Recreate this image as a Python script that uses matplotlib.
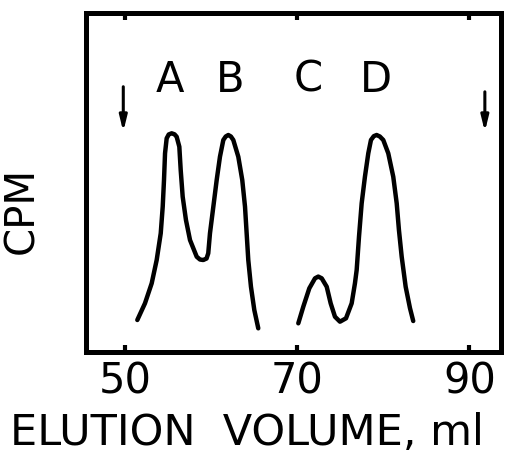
import matplotlib
matplotlib.use('Agg')
import matplotlib.pyplot as plt

# elution profile (x in ml, y in relative CPM 0-100)
ab_x = [51.43, 52.32, 53.10, 53.68, 54.15, 54.38, 54.53, 54.65, 54.84, 55.08, 55.42, 55.75,
        56.00, 56.31, 56.47, 56.70, 57.08, 57.55, 58.33, 58.71, 59.09, 59.47, 59.67, 59.87,
        60.26, 60.65, 61.03, 61.42, 61.70, 62.00, 62.30, 62.58, 63.16, 63.62, 63.94, 64.13,
        64.32, 64.63, 65.02, 65.48]
ab_y = [9.37, 14.30, 20.21, 27.10, 34.99, 42.85, 50.74, 58.63, 63.06, 64.20, 64.54, 64.25,
        63.53, 60.58, 53.69, 45.80, 38.92, 33.01, 28.07, 27.24, 27.10, 27.54, 29.08, 34.99,
        42.85, 50.74, 57.62, 62.56, 63.60, 64.04, 63.60, 62.56, 57.62, 50.74, 42.85, 34.99,
        27.10, 19.21, 12.32, 6.91]
cd_x = [70.13, 70.71, 71.41, 72.07, 72.45, 72.85, 73.43, 73.89, 74.39, 74.97, 75.67, 76.33,
        76.71, 76.91, 77.18, 77.49, 77.87, 78.26, 78.57, 78.90, 79.23, 79.60, 80.00, 80.58,
        81.16, 81.56, 81.82, 82.14, 82.60, 83.10, 83.48]
cd_y = [8.39, 13.30, 18.74, 21.69, 22.20, 21.69, 19.21, 14.30, 10.34, 8.87, 9.87, 14.30,
        20.21, 24.14, 33.98, 43.85, 51.71, 58.63, 62.56, 63.70, 64.04, 63.60, 62.56, 58.63,
        51.71, 43.85, 35.96, 28.07, 19.21, 12.90, 9.07]

peak_names = ['A', 'B', 'C', 'D']
peak_x = [55.2, 62.2, 71.3, 79.2]
peak_label_y = 80.3

arrow_x = [49.8, 91.8]
arrow_top = [78.3, 76.8]
arrow_tip = 65.0

xticks = [50, 70, 90]

plt.rcParams['font.family'] = ['DejaVu Sans']

fig = plt.figure(figsize=(5.08, 4.53), dpi=100)
ax = fig.add_axes([0.1693, 0.2236, 0.817, 0.747])

ax.plot(ab_x, ab_y, color='black', lw=3.2, solid_capstyle='round', solid_joinstyle='round')
ax.plot(cd_x, cd_y, color='black', lw=3.2, solid_capstyle='round', solid_joinstyle='round')

for name, xp in zip(peak_names, peak_x):
    ax.text(xp, peak_label_y, name, ha='center', va='center', fontsize=30)

for xa, yt in zip(arrow_x, arrow_top):
    ax.annotate('', xy=(xa, arrow_tip), xytext=(xa, yt),
                arrowprops=dict(arrowstyle='-|>,head_length=0.9,head_width=0.22',
                                color='black', lw=2.2, shrinkA=0, shrinkB=0))

ax.set_xlim(45.47, 93.68)
ax.set_ylim(0, 100)
ax.set_xticks(xticks)
ax.set_xticklabels([str(t) for t in xticks], fontsize=30)
ax.set_yticks([])
ax.tick_params(axis='x', direction='in', top=True, length=5, width=3, pad=6)
for s in ax.spines.values():
    s.set_linewidth(3.6)

fig.text(22 / 508, 1 - 210 / 453, 'CPM', rotation=90, ha='center', va='center', fontsize=29)
fig.text(247 / 508, 1 - 433 / 453, 'ELUTION  VOLUME, ml', ha='center', va='center', fontsize=31)

fig.savefig('out.png', dpi=100)
